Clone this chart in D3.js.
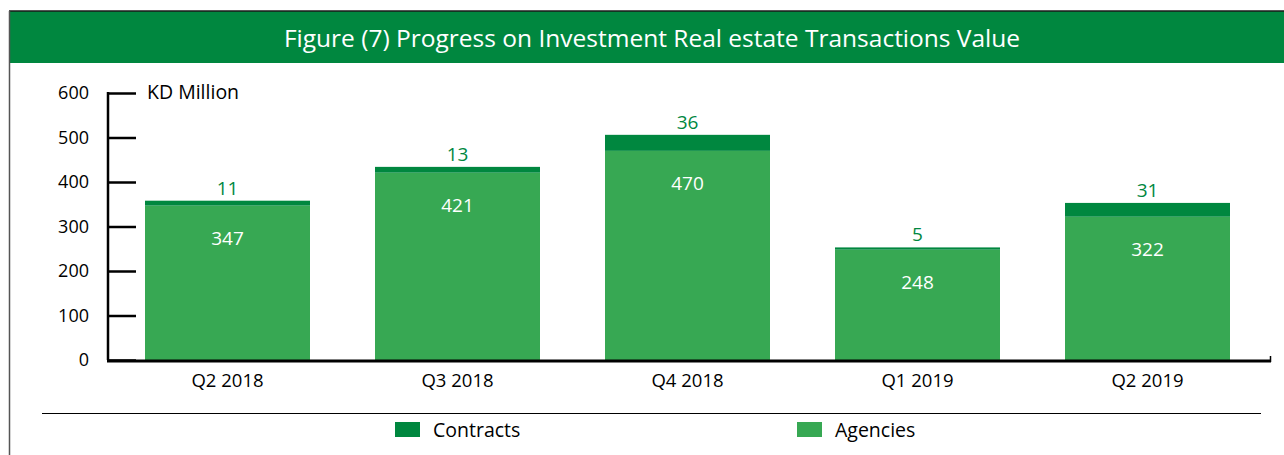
<!DOCTYPE html>
<html>
<head>
<meta charset="utf-8">
<script src="https://cdn.jsdelivr.net/npm/d3@7"></script>
<style>
  body { margin: 0; background: #fff; }
  svg { display: block; font-family: "Open Sans", "Noto Sans", sans-serif; }
</style>
</head>
<body>
<div id="container"></div>
<script>
var quarters = ["Q2 2018", "Q3 2018", "Q4 2018", "Q1 2019", "Q2 2019"]
var agencies = [347, 421, 470, 248, 322]
var contracts = [11, 13, 36, 5, 31]
var yTicks = [0, 100, 200, 300, 400, 500, 600]

var darkGreen = "#00873f"
var lightGreen = "#37a853"

var svg = d3.select("#container").append("svg")
    .attr("width", 1284)
    .attr("height", 455)

// header band and frame
svg.append("rect")
    .attr("x", 9).attr("y", 11)
    .attr("width", 1275).attr("height", 52)
    .attr("fill", darkGreen)
svg.append("line")
    .attr("x1", 9).attr("x2", 1284).attr("y1", 11).attr("y2", 11)
    .attr("stroke", "#1a1a1a").attr("stroke-width", 1.5)
svg.append("line")
    .attr("x1", 9.5).attr("x2", 9.5).attr("y1", 11).attr("y2", 455)
    .attr("stroke", "#555").attr("stroke-width", 1.5)

svg.append("text")
    .attr("x", 652).attr("y", 47)
    .attr("text-anchor", "middle")
    .attr("fill", "#fff")
    .attr("font-size", "24.5px")
    .text("Figure (7) Progress on Investment Real estate Transactions Value")

var x = d3.scaleBand()
    .domain(quarters)
    .range([112.5, 1262.5])
    .paddingInner(0.2826)
    .paddingOuter(0.1413)

var y = d3.scaleLinear()
    .domain([0, 600])
    .range([360, 93])

var rows = quarters.map(function(q, i) {
  return {q: q, agencies: agencies[i], contracts: contracts[i]}
})

// bars
var bars = svg.append("g")
bars.selectAll(".agency")
  .data(rows)
  .enter().append("rect")
    .attr("class", "agency")
    .attr("x", function(d) { return x(d.q) })
    .attr("width", x.bandwidth())
    .attr("y", function(d) { return y(d.agencies) })
    .attr("height", function(d) { return y(0) - y(d.agencies) })
    .attr("fill", lightGreen)

bars.selectAll(".contract")
  .data(rows)
  .enter().append("rect")
    .attr("class", "contract")
    .attr("x", function(d) { return x(d.q) })
    .attr("width", x.bandwidth())
    .attr("y", function(d) { return y(d.agencies + d.contracts) })
    .attr("height", function(d) { return y(d.agencies) - y(d.agencies + d.contracts) })
    .attr("fill", darkGreen)

// value labels
bars.selectAll(".alabel")
  .data(rows)
  .enter().append("text")
    .attr("x", function(d) { return x(d.q) + x.bandwidth() / 2 })
    .attr("y", function(d) { return y(d.agencies) + 39 })
    .attr("text-anchor", "middle")
    .attr("fill", "#fff")
    .attr("font-size", "19px")
    .text(function(d) { return d.agencies })

bars.selectAll(".clabel")
  .data(rows)
  .enter().append("text")
    .attr("x", function(d) { return x(d.q) + x.bandwidth() / 2 })
    .attr("y", function(d) { return y(d.agencies + d.contracts) - 6 })
    .attr("text-anchor", "middle")
    .attr("fill", darkGreen)
    .attr("font-size", "19px")
    .text(function(d) { return d.contracts })

// y axis
var yAxis = svg.append("g")
    .attr("transform", "translate(108,0)")
    .call(d3.axisRight(y).tickValues(yTicks).tickSize(28).tickFormat(""))
yAxis.select(".domain").remove()
yAxis.selectAll(".tick line").attr("stroke", "#000").attr("stroke-width", 2.5)

svg.append("line")
    .attr("x1", 108).attr("x2", 108).attr("y1", y(600) - 1).attr("y2", y(0))
    .attr("stroke", "#000").attr("stroke-width", 2.5)

svg.append("g").selectAll("text")
  .data(yTicks)
  .enter().append("text")
    .attr("x", 89)
    .attr("y", function(d) { return y(d) + 6 })
    .attr("text-anchor", "end")
    .attr("fill", "#000")
    .attr("font-size", "18px")
    .text(function(d) { return d })

svg.append("text")
    .attr("x", 147).attr("y", 99)
    .attr("fill", "#000")
    .attr("font-size", "19.5px")
    .text("KD Million")

// x axis
svg.append("line")
    .attr("x1", 107).attr("x2", 1271).attr("y1", y(0) + 1).attr("y2", y(0) + 1)
    .attr("stroke", "#000").attr("stroke-width", 3)
svg.append("line")
    .attr("x1", 1270.5).attr("x2", 1270.5).attr("y1", y(0) - 4).attr("y2", y(0) + 2)
    .attr("stroke", "#000").attr("stroke-width", 1.5)

svg.append("g").selectAll("text")
  .data(quarters)
  .enter().append("text")
    .attr("x", function(d) { return x(d) + x.bandwidth() / 2 })
    .attr("y", 387)
    .attr("text-anchor", "middle")
    .attr("fill", "#000")
    .attr("font-size", "18.5px")
    .text(function(d) { return d })

// legend
svg.append("line")
    .attr("x1", 42).attr("x2", 1261).attr("y1", 413.5).attr("y2", 413.5)
    .attr("stroke", "#000").attr("stroke-width", 1)

var legendItems = [
  {name: "Contracts", color: darkGreen, x: 395},
  {name: "Agencies", color: lightGreen, x: 797}
]
var legend = svg.append("g").selectAll("g")
  .data(legendItems)
  .enter().append("g")
    .attr("transform", function(d) { return "translate(" + d.x + ",0)" })
legend.append("rect")
    .attr("x", 0).attr("y", 422)
    .attr("width", 25).attr("height", 15)
    .attr("fill", function(d) { return d.color })
legend.append("text")
    .attr("x", 38).attr("y", 437)
    .attr("fill", "#000")
    .attr("font-size", "19.5px")
    .text(function(d) { return d.name })
</script>
</body>
</html>
